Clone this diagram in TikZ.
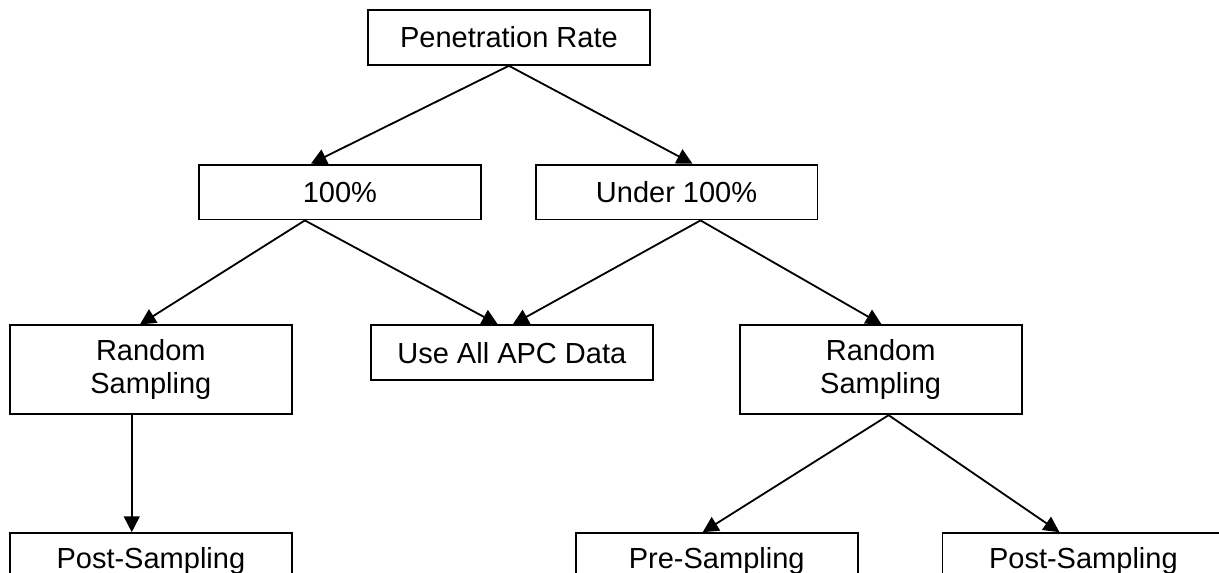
\documentclass[tikz,border=0pt]{standalone}
\usepackage{fontspec}
\setmainfont{Liberation Sans}
\usetikzlibrary{positioning,arrows.meta}

\begin{document}
\begin{tikzpicture}
  [boxN/.style={draw,line width=0.75pt,minimum width=116.6pt,minimum height=22.7pt,
                inner sep=0pt,align=center,font=\fontsize{12}{13.8}\selectfont},
   twoN/.style={boxN,minimum height=36.8pt},
   linkE/.style={draw,line width=0.75pt,-{Triangle[length=6.5pt,width=6.5pt]}},
   node distance=40.5pt]

  \useasboundingbox (-210.5pt,15.5pt) rectangle (293.7pt,-221.5pt);

  \node[boxN] (rate)                                   {Penetration Rate};
  \node[boxN] (full)   [below=of rate,xshift=-69.9pt]  {100\%};
  \node[boxN] (under)  [right=21.9pt of full]          {Under 100\%};

  \node[twoN] (randL)  [below=43pt of full,xshift=-78.2pt] {Random\\Sampling};
  \node[boxN] (useall) [below=43pt of full,xshift=71.1pt]  {Use All APC Data};
  \node[twoN] (randR)  [below=43pt of under,xshift=84.4pt] {Random\\Sampling};

  \node[boxN] (postL)  [below=48.4pt of randL]              {Post-Sampling};
  \node[boxN] (pre)    [below=48.4pt of randR,xshift=-67.8pt] {Pre-Sampling};
  \node[boxN] (postR)  [right=34.3pt of pre]                {Post-Sampling};

  \path[linkE] (rate.south) -- ([xshift=-12pt]full.north);
  \path[linkE] (rate.south) -- ([xshift=6.6pt]under.north);

  \path[linkE] ([xshift=-14.5pt]full.south) -- ([xshift=-4.5pt]randL.north);
  \path[linkE] ([xshift=-14.5pt]full.south) -- ([xshift=-5.8pt]useall.north);
  \path[linkE] ([xshift=9.9pt]under.south) -- ([xshift=0.4pt]useall.north);
  \path[linkE] ([xshift=9.9pt]under.south) -- ([xshift=0.4pt]randR.north);

  \path[linkE] ([xshift=-7.9pt]randL.south) -- ([xshift=-7.9pt]postL.north);
  \path[linkE] ([xshift=3.3pt]randR.south) -- ([xshift=-5.8pt]pre.north);
  \path[linkE] ([xshift=3.3pt]randR.south) -- ([xshift=-9.9pt]postR.north);

\end{tikzpicture}
\end{document}
